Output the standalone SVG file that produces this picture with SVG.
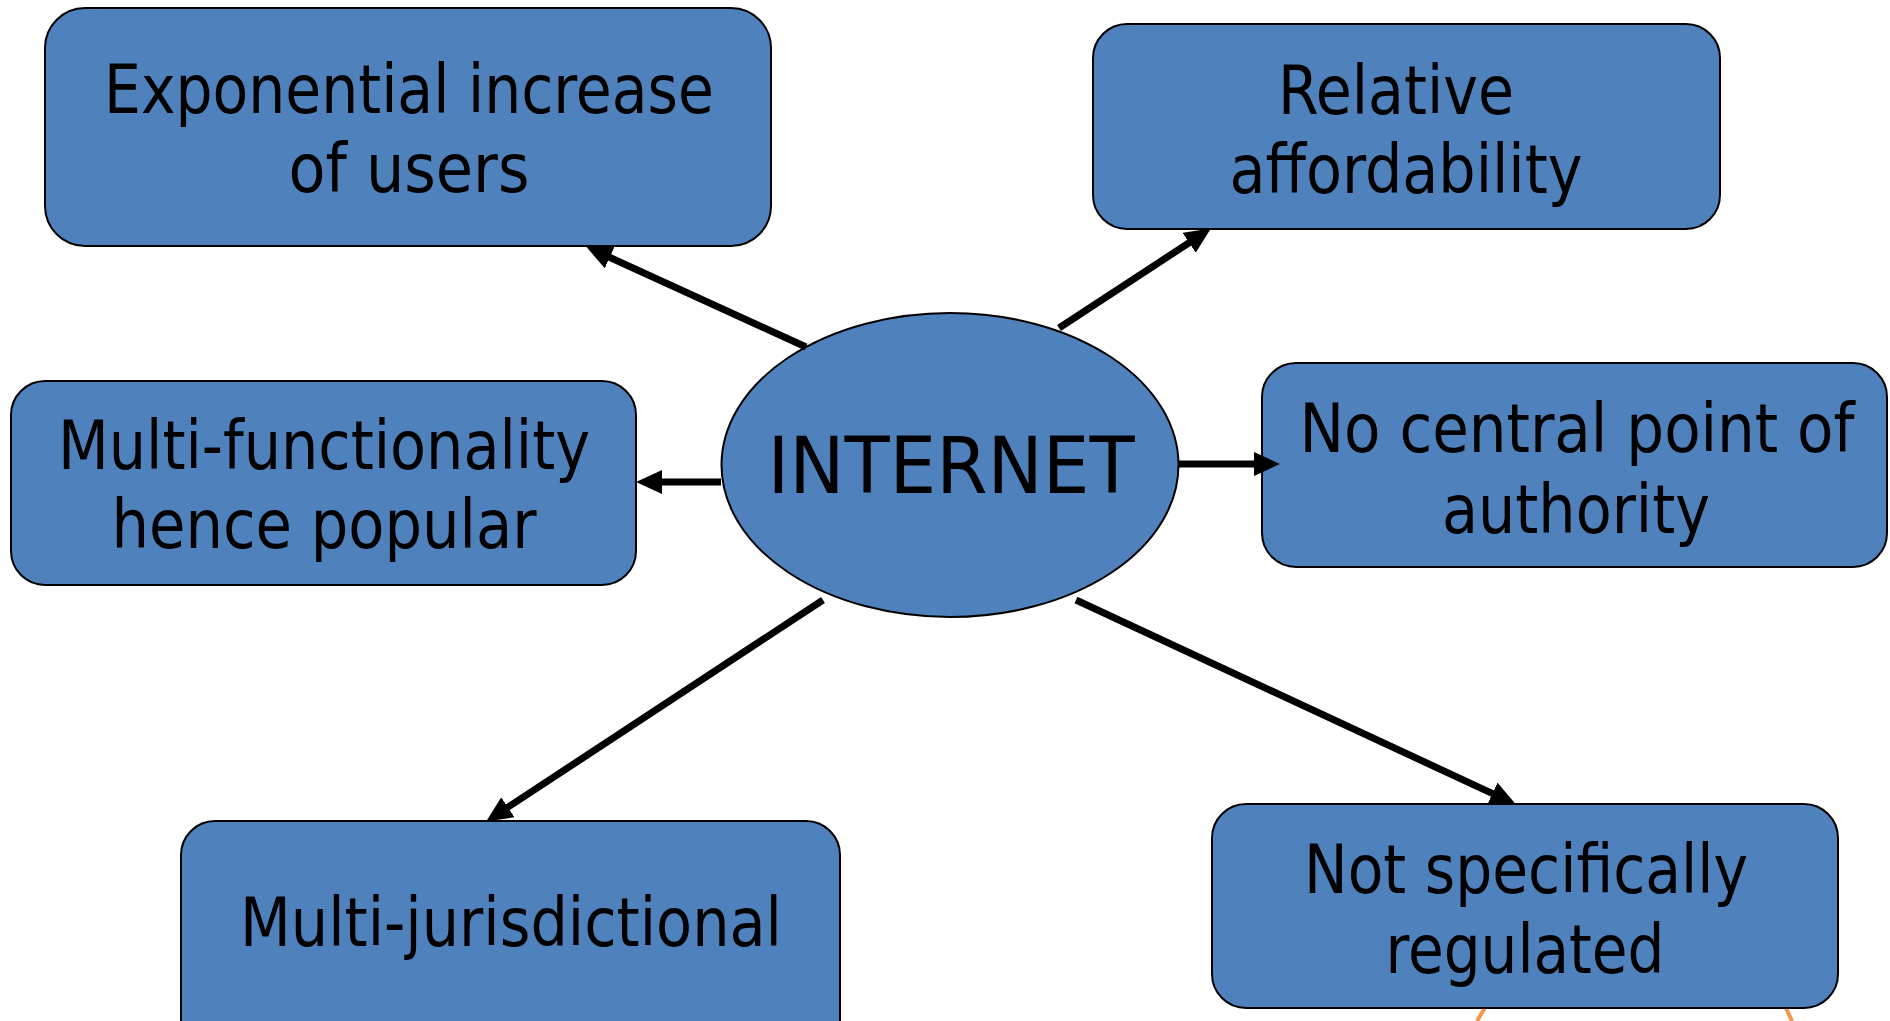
<svg xmlns="http://www.w3.org/2000/svg" width="1890" height="1021" viewBox="0 0 1890 1021">
<style>
.box{fill:#4F81BD;stroke:#000;stroke-width:2}
.t{font-family:"DejaVu Sans Condensed","DejaVu Sans","Liberation Sans",sans-serif;font-stretch:condensed;font-size:67px;fill:#000;text-anchor:middle}
.big{font-size:78px}
.conn{stroke:#000;stroke-width:7;fill:none;marker-end:url(#ah)}
.orange{stroke:#F79646;stroke-width:4;fill:none}
</style>
<defs>
<marker id="ah" viewBox="0 0 26 24" refX="5" refY="12" markerWidth="26" markerHeight="24" markerUnits="userSpaceOnUse" orient="auto">
<path d="M0,0 L26,12 L0,24 z" fill="#000"/>
</marker>
</defs>
<rect width="1890" height="1021" fill="#fff"/>
<g id="orange-shape">
<path class="orange" d="M1486,1006 L1477,1021 M1785,1006 L1792,1021"/>
</g>
<g id="node-exponential">
<rect class="box" x="45" y="8" width="726" height="238" rx="40" ry="40"/>
<text class="t" x="409" y="113" textLength="610" lengthAdjust="spacingAndGlyphs">Exponential increase</text>
<text class="t" x="409" y="192" textLength="241" lengthAdjust="spacingAndGlyphs">of users</text>
</g>
<g id="node-affordability">
<rect class="box" x="1093" y="24" width="627" height="205" rx="34" ry="34"/>
<text class="t" x="1396" y="114" textLength="236" lengthAdjust="spacingAndGlyphs">Relative</text>
<text class="t" x="1406" y="193" textLength="353" lengthAdjust="spacingAndGlyphs">affordability</text>
</g>
<g id="node-multifunctionality">
<rect class="box" x="11" y="381" width="625" height="204" rx="34" ry="34"/>
<text class="t" x="324" y="469" textLength="532" lengthAdjust="spacingAndGlyphs">Multi-functionality</text>
<text class="t" x="324" y="548" textLength="425" lengthAdjust="spacingAndGlyphs">hence popular</text>
</g>
<g id="node-central">
<rect class="box" x="1262" y="363" width="625" height="204" rx="34" ry="34"/>
<text class="t" x="1577" y="452" textLength="555" lengthAdjust="spacingAndGlyphs">No central point of</text>
<text class="t" x="1576" y="533" textLength="268" lengthAdjust="spacingAndGlyphs">authority</text>
</g>
<g id="node-jurisdictional">
<rect class="box" x="181" y="821" width="659" height="240" rx="34" ry="34"/>
<text class="t" x="511" y="946" textLength="542" lengthAdjust="spacingAndGlyphs">Multi-jurisdictional</text>
</g>
<g id="node-regulated">
<rect class="box" x="1212" y="804" width="626" height="204" rx="34" ry="34"/>
<text class="t" x="1526" y="893" textLength="444" lengthAdjust="spacingAndGlyphs">Not specifically</text>
<text class="t" x="1525" y="973" textLength="279" lengthAdjust="spacingAndGlyphs">regulated</text>
</g>
<g id="node-internet">
<ellipse class="box" cx="950" cy="465" rx="228.5" ry="152"/>
<text class="t big" x="951" y="493" textLength="367" lengthAdjust="spacingAndGlyphs">INTERNET</text>
</g>
<g id="connectors">
<line class="conn" x1="806" y1="347" x2="605.2" y2="255.3"/>
<line class="conn" x1="1059" y1="328" x2="1193.3" y2="240"/>
<line class="conn" x1="721" y1="482" x2="657" y2="482"/>
<line class="conn" x1="1179" y1="464" x2="1259" y2="464"/>
<line class="conn" x1="823" y1="600" x2="503.7" y2="810"/>
<line class="conn" x1="1076" y1="600" x2="1496.9" y2="795.6"/>
</g>
</svg>
